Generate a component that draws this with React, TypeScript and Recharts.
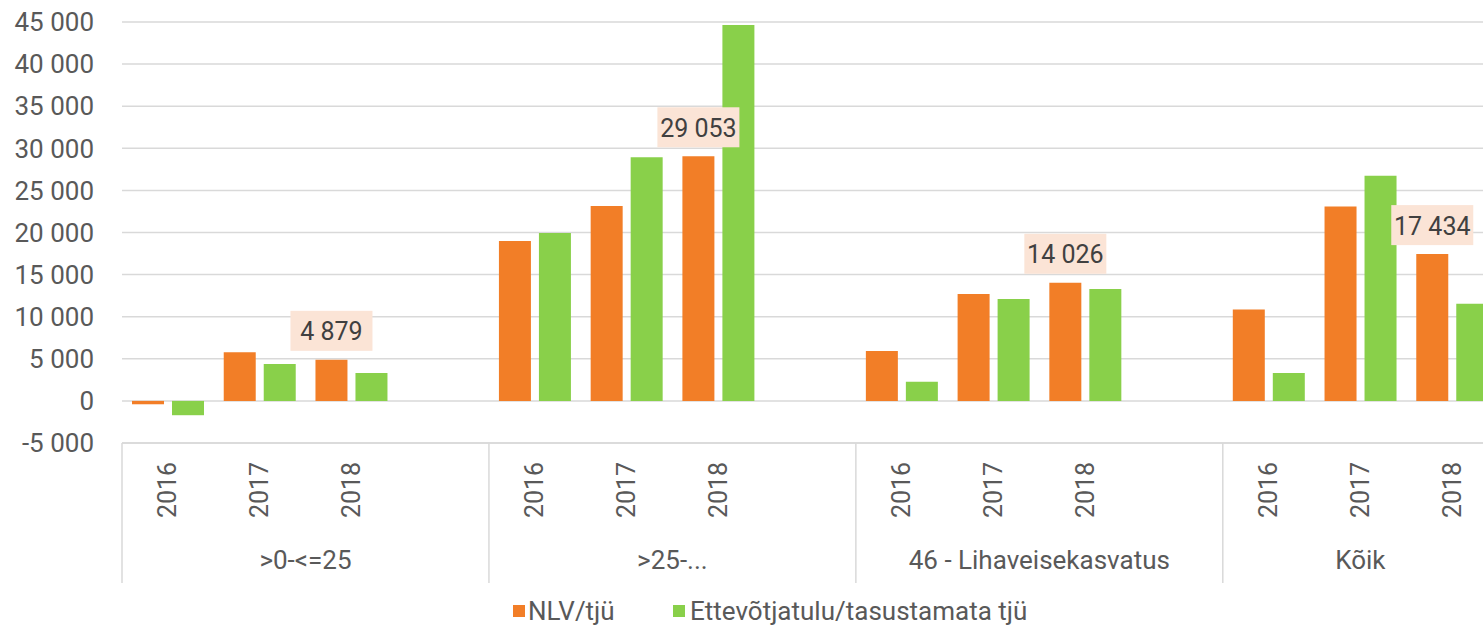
import React from "react";
import { BarChart, Bar, XAxis, YAxis, CartesianGrid, LabelList } from "recharts";

// ---- data ----
const groups = [">0-<=25", ">25-...", "46 - Lihaveisekasvatus", "Kõik"];
const years = ["2016", "2017", "2018"];
// values per group, in year order
const nlv = [-400, 5780, 4879, 19000, 23150, 29053, 5940, 12700, 14026, 10850, 23100, 17434];
const ett = [-1700, 4380, 3300, 19950, 28950, 44650, 2260, 12100, 13300, 3300, 26750, 11550];
const labelledYear = "2018";
const yTicks = [-5000, 0, 5000, 10000, 15000, 20000, 25000, 30000, 35000, 40000, 45000];
const seriesNames = ["NLV/tjü", "Ettevõtjatulu/tasustamata tjü"];
const seriesColors = ["#F27E27", "#89D04A"];

// rows: 3 years per group, with an empty spacer slot between groups
type Row = { key: string; year: string; group: string; nlv: number | null; ett: number | null; nlvLabel: number | null };
const data: Row[] = [];
groups.forEach((g, gi) => {
  years.forEach((y, yi) => {
    const v = nlv[gi * years.length + yi];
    data.push({
      key: `${data.length}`,
      year: y,
      group: g,
      nlv: v,
      ett: ett[gi * years.length + yi],
      nlvLabel: y === labelledYear ? v : null,
    });
  });
  if (gi < groups.length - 1) {
    data.push({ key: `${data.length}`, year: "", group: g, nlv: null, ett: null, nlvLabel: null });
  }
});

// ---- layout ----
const PLOT_LEFT = 122;
const MARGIN_RIGHT = 10;
const SLOT = 91.75;
const CHART_W = Math.round(PLOT_LEFT + MARGIN_RIGHT + SLOT * data.length);
const PLOT_W = CHART_W - PLOT_LEFT - MARGIN_RIGHT;
const SLOT_W = PLOT_W / data.length;
const CHART_H = 631;
const MARGIN_TOP = 22;
const YEAR_AXIS_H = 95;
const GROUP_AXIS_H = 45;
const MARGIN_BOTTOM = 48;
const PLOT_BOTTOM = CHART_H - MARGIN_BOTTOM - YEAR_AXIS_H - GROUP_AXIS_H;
const SEP_BOTTOM = PLOT_BOTTOM + YEAR_AXIS_H + GROUP_AXIS_H;
const FONT = "Roboto, 'Noto Sans', sans-serif";
const TXT = "#595959";
const GRID = "#d9d9d9";

const fmt = (v: number) => {
  const s = Math.abs(Math.round(v)).toString().replace(/\B(?=(\d{3})+(?!\d))/g, " ");
  return (v < 0 ? "-" : "") + s;
};

const YearTick = (props: any) => {
  const { x, payload } = props;
  const yr = data[Number(payload.value)]?.year;
  if (!yr) return null;
  const cy = PLOT_BOTTOM + 47;
  return (
    <text
      x={x}
      y={cy}
      transform={`rotate(-90, ${x}, ${cy})`}
      textAnchor="middle"
      dominantBaseline="central"
      fill={TXT}
      fontSize={25}
      fontFamily={FONT}
    >
      {yr}
    </text>
  );
};

const GroupTick = (props: any) => {
  const { payload, index } = props;
  const slotsBefore = index * (years.length + 1);
  const nSlots = index === groups.length - 1 ? years.length : years.length + 1;
  const left = PLOT_LEFT + slotsBefore * SLOT_W;
  const right = left + nSlots * SLOT_W;
  const cx = (left + right) / 2;
  return (
    <g>
      <line x1={left} x2={left} y1={PLOT_BOTTOM} y2={SEP_BOTTOM} stroke={GRID} strokeWidth={1.5} />
      {index === groups.length - 1 && (
        <line x1={right} x2={right} y1={PLOT_BOTTOM} y2={SEP_BOTTOM} stroke={GRID} strokeWidth={1.5} />
      )}
      <text
        x={cx}
        y={PLOT_BOTTOM + 117}
        textAnchor="middle"
        dominantBaseline="central"
        fill={TXT}
        fontSize={26}
        fontFamily={FONT}
      >
        {payload.value}
      </text>
    </g>
  );
};

const ValueLabel = (props: any) => {
  const { x, y, width, value } = props;
  if (value == null || value === "") return null;
  const cx = Number(x) + Number(width) / 2;
  const bw = 82;
  const bh = 40;
  const by = Number(y) - 9 - bh;
  return (
    <g>
      <rect x={cx - bw / 2} y={by} width={bw} height={bh} fill="#FBE4D6" />
      <text
        x={cx}
        y={by + bh / 2 + 1}
        textAnchor="middle"
        dominantBaseline="central"
        fill="#404040"
        fontSize={25}
        fontFamily={FONT}
      >
        {fmt(Number(value))}
      </text>
    </g>
  );
};

const legendPos = [
  { square: 513, text: 528 },
  { square: 673, text: 690 },
];

export default function App() {
  return (
    <div
      style={{
        position: "absolute",
        left: 0,
        top: 0,
        width: 1483,
        height: 631,
        overflow: "hidden",
        background: "#fff",
      }}
    >
      <BarChart
        width={CHART_W}
        height={CHART_H}
        data={data}
        margin={{ top: MARGIN_TOP, right: MARGIN_RIGHT, bottom: MARGIN_BOTTOM, left: 0 }}
        barCategoryGap={10}
        barGap={8}
      >
        <CartesianGrid vertical={false} stroke={GRID} strokeWidth={1.5} />
        <XAxis
          dataKey="key"
          height={YEAR_AXIS_H}
          interval={0}
          tick={<YearTick />}
          tickLine={false}
          axisLine={{ stroke: GRID, strokeWidth: 1.5 }}
        />
        <XAxis
          xAxisId="grp"
          dataKey="group"
          allowDuplicatedCategory={false}
          height={GROUP_AXIS_H}
          interval={0}
          tick={<GroupTick />}
          tickLine={false}
          axisLine={false}
        />
        <YAxis
          width={PLOT_LEFT}
          domain={[-5000, 45000]}
          ticks={yTicks}
          interval={0}
          tickFormatter={fmt}
          tickLine={false}
          tickSize={0}
          tickMargin={28}
          axisLine={false}
          tick={{ fill: TXT, fontSize: 26, fontFamily: FONT }}
        />
        <Bar dataKey="nlv" name={seriesNames[0]} fill={seriesColors[0]} isAnimationActive={false}>
          <LabelList dataKey="nlvLabel" content={<ValueLabel />} />
        </Bar>
        <Bar dataKey="ett" name={seriesNames[1]} fill={seriesColors[1]} isAnimationActive={false} />
      </BarChart>
      {seriesNames.map((n, i) => (
        <div
          key={n}
          style={{
            position: "absolute",
            left: legendPos[i].square,
            top: 596,
            display: "flex",
            alignItems: "center",
            fontFamily: FONT,
            fontSize: 26,
            color: TXT,
            whiteSpace: "nowrap",
          }}
        >
          <span
            style={{
              width: 12,
              height: 12,
              background: seriesColors[i],
              marginRight: legendPos[i].text - legendPos[i].square - 12,
              display: "inline-block",
            }}
          />
          <span>{n}</span>
        </div>
      ))}
    </div>
  );
}
